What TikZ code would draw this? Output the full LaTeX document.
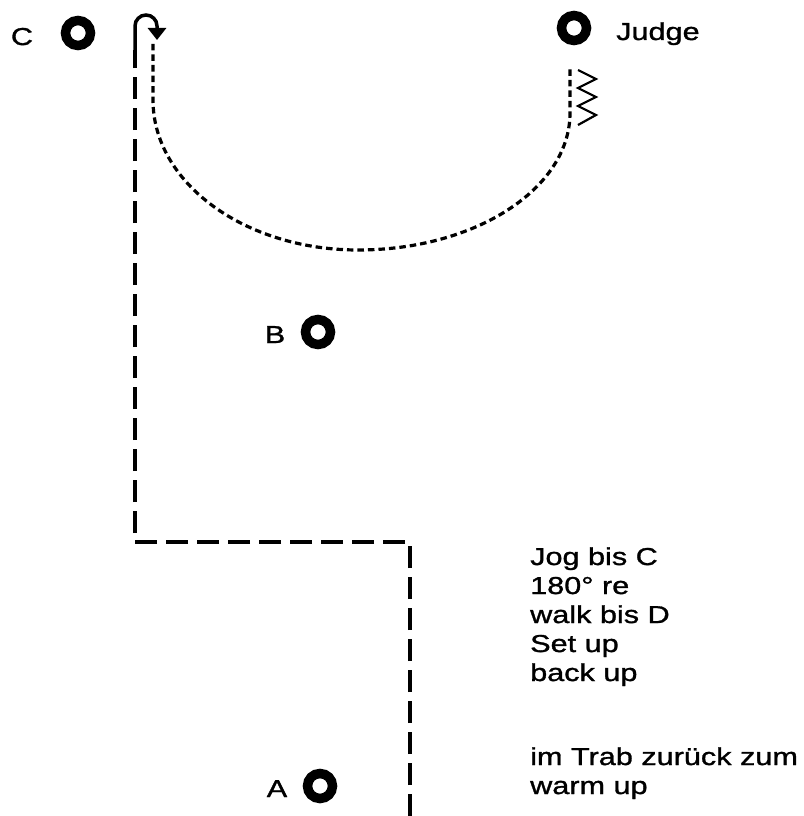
\documentclass[tikz,border=0pt]{standalone}
\usepackage{fontspec}
\setmainfont{Liberation Sans}[FakeStretch=1.25,FakeBold=1.2]
\usepackage{tikz}
\usetikzlibrary{arrows.meta}
\pgfmathsetmacro{\ringSize}{25}
\pgfmathsetmacro{\lineSkip}{29}
\tikzset{
	marker/.style= {
		shape=circle, draw,
		minimum size=\ringSize pt,
		inner sep=0, line width=9.5pt
	},
	letter/.style= {anchor=base, inner sep=0, font=\fontsize{24.5}{29}\selectfont},
	notes/.style= {anchor=base west, inner sep=0, font=\fontsize{24.5}{29}\selectfont},
	jogpath/.style= {line width=3.5pt, dash pattern=on 22pt off 9pt},
	walkpath/.style= {line width=3.2pt, dash pattern=on 6.5pt off 4pt},
	turntip/.style= {line width=3.5pt, -{Triangle[length=12pt,width=18pt]}}
}
\begin{document}
\begin{tikzpicture}[x=1pt,y=-1pt]
\path[use as bounding box] (0,0) rectangle (803,816);

% markers
\node[marker] (ringC) at (78,33) {};
\node[marker] (ringJ) at (574,28) {};
\node[marker] (ringB) at (318,332) {};
\node[marker] (ringA) at (320,786) {};
\node[letter] (labC) at (22,45) {C};
\node[letter] (labB) at (275,343) {B};
\node[letter] (labA) at (277,797) {A};
\node[notes] (labJ) at (616,40) {Judge};

% jog
\coordinate (start) at (410,816);
\coordinate (turn1) at (410,542);
\coordinate (turn2) at (135,542);
\coordinate (hook) at (135,50);
\draw[jogpath] (start) -- (turn1) -- (turn2) -- (hook);
\draw[turntip] (hook) -- (135,26) arc[start angle=180,end angle=360,radius=11] -- (157,40);

% walk
\coordinate (walk) at (153,44);
\coordinate (stop) at (570,68);
\draw[walkpath] (walk) -- (153,100) arc[start angle=180,end angle=90,x radius=205,y radius=150]
	arc[start angle=90,end angle=0,x radius=212,y radius=137] -- (stop);

% back up
\draw[line width=2.2pt] (578,70) -- (596,79) -- (578,88) -- (596,97) -- (578,106) -- (596,115) -- (578,125);

% notes
\foreach \txt [count=\i from 0] in {Jog bis C,180° re,walk bis D,Set up,back up}{%
	\node[notes] at (530,{565+\i*\lineSkip}) {\txt};
}
\node[notes] (trab) at (530,765) {im Trab zurück zum};
\node[notes] (warm) at (530,794) {warm up};
\end{tikzpicture}
\end{document}
